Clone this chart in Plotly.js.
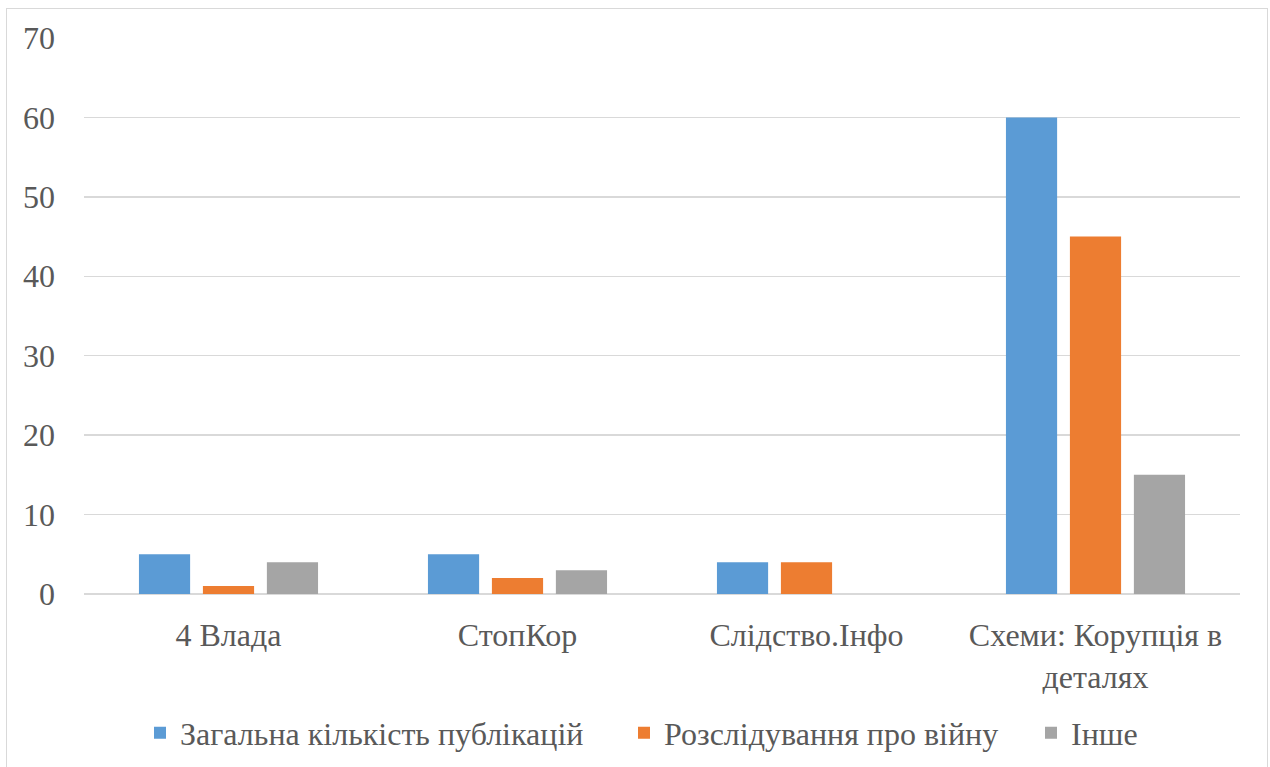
<!DOCTYPE html>
<html><head><meta charset="utf-8">
<script src="https://cdn.plot.ly/plotly-3.0.1.min.js"></script>
<style>
body{margin:0;padding:0;background:#fff;}
#wrap{position:relative;width:1270px;height:767px;overflow:hidden;}
#frame{position:absolute;left:6px;top:8px;width:1260px;height:800px;border:1px solid #d9d9d9;pointer-events:none;z-index:5;}
#chart{position:absolute;left:0;top:0;width:1270px;height:767px;}
</style></head>
<body>
<div id="wrap"><div id="frame"></div><div id="chart"></div></div>
<script>
const categories = ["4 Влада", "СтопКор", "Слідство.Інфо", "Схеми: Корупція в<br>деталях"];
const seriesNames = ["Загальна кількість публікацій", "Розслідування про війну", "Інше"];
const totalPubs = [5, 5, 4, 60];
const warInvestigations = [1, 2, 4, 45];
const otherPubs = [4, 3, 0, 15];
const colors = ["#5B9BD5", "#ED7D31", "#A5A5A5"];

const FAMILY = "Liberation Serif";
function mkFont(sz) { return {family: FAMILY, size: sz, color: "#595959"}; }
const vals = [totalPubs, warInvestigations, otherPubs];
const legendIds = ["legend", "legend2", "legend3"];
const legendX = [140, 624, 1031];
const traces = vals.map((v, i) => ({
  type: "bar", x: categories, y: v, name: seriesNames[i],
  marker: {color: colors[i]}, hoverinfo: "none", legend: legendIds[i]
}));

const layout = {
  width: 1270, height: 767,
  margin: {l: 84, r: 30, t: 38, b: 173},
  paper_bgcolor: "rgba(0,0,0,0)", plot_bgcolor: "#fff",
  font: mkFont(32),
  barmode: "group", bargap: 0.336, bargroupgap: 0.2,
  xaxis: {showgrid: false, showline: false, zeroline: false, ticks: "", tickfont: mkFont(32), ticklabelstandoff: 19},
  yaxis: {range: [0, 70], dtick: 10, showgrid: true, gridcolor: "#d9d9d9", gridwidth: 1.3,
          zeroline: true, zerolinecolor: "#d9d9d9", zerolinewidth: 1.3, showline: false,
          ticks: "", tickfont: mkFont(32), ticklabelstandoff: 28},
  showlegend: true
};
legendIds.forEach((id, i) => {
  layout[id] = {orientation: "h", xref: "container", yref: "container",
    x: legendX[i] / 1270, xanchor: "left", y: 1 - 733 / 767, yanchor: "middle",
    font: mkFont(32), itemwidth: 30, bgcolor: "rgba(0,0,0,0)"};
});
Plotly.newPlot("chart", traces, layout, {displayModeBar: false, staticPlot: true});
</script>
</body></html>
